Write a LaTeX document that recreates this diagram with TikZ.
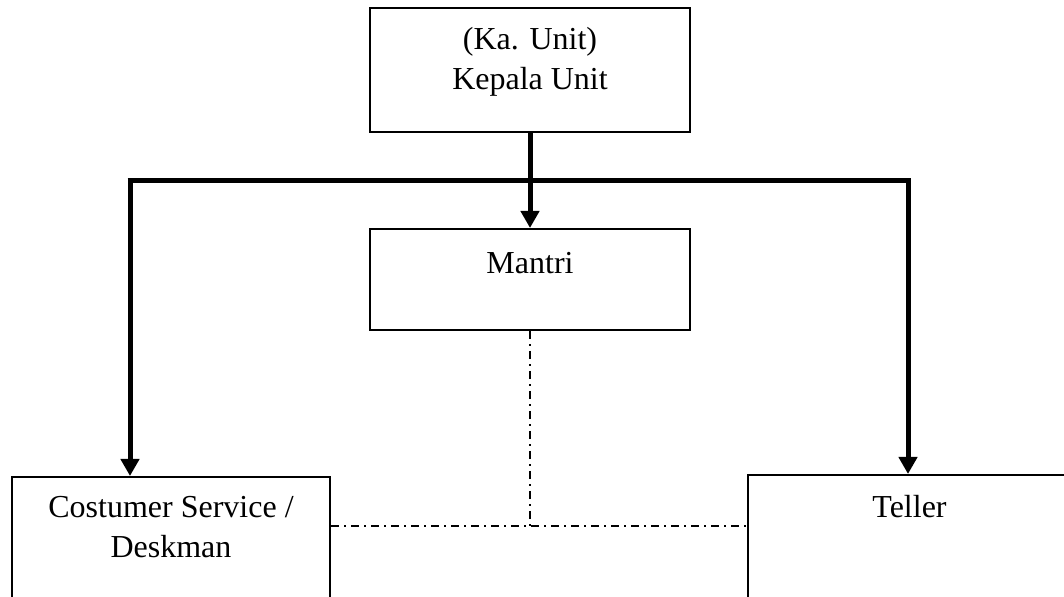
\documentclass[tikz,border=0pt]{standalone}
\usepackage{fontspec}
\setmainfont{Liberation Serif}
\usetikzlibrary{arrows.meta}
\tikzset{
  unitbox/.style={draw, line width=1pt, rectangle, inner sep=0pt},
  unittext/.style={align=center, inner sep=0pt, font=\fontsize{16}{20}\selectfont},
  trunk/.style={line width=2.5pt},
  trunkarrow/.style={trunk, -{Triangle[width=9pt,length=8.5pt]}},
  dashdot/.style={line width=0.7pt, dash pattern=on 4pt off 2.6pt on 0.8pt off 2.6pt}
}
\begin{document}
\begin{tikzpicture}[x=0.5pt,y=-0.5pt]
                \path[use as bounding box, clip] (0,0) rectangle (1064,597);

                \node[unitbox, minimum width=160pt, minimum height=62pt] (kepala) at (530,70) {};
                \node[unitbox, minimum width=160pt, minimum height=50.5pt] (mantri) at (530,279.5) {};
                \node[unitbox, minimum width=159pt, minimum height=81.5pt] (cs) at (171,558.5) {};
                \node[unitbox, minimum width=181pt, minimum height=82.5pt] (teller) at (929,557.5) {};

                \node[unittext] (kepalatext) at (530,62) {(Ka. Unit)\\Kepala Unit};
                \node[unittext] (mantritext) at (530,263) {Mantri};
                \node[unittext] (cstext) at (171,527.5) {Costumer Service /\\Deskman};
                \node[unittext] (tellertext) at (909.5,507) {Teller};

                \coordinate (busL) at (130,181);
                \coordinate (busR) at (908,181);
                \coordinate (hub) at (530,526);

                \draw[trunk] ([xshift=-1.25pt]busL) -- ([xshift=1.25pt]busR);
                \draw[trunkarrow] (kepala.south) -- (mantri.north);
                \draw[trunkarrow] (busL) -- (busL |- cs.north);
                \draw[trunkarrow] (busR) -- (busR |- teller.north);

                \draw[dashdot] (mantri.south) -- (hub);
                \draw[dashdot] (cs.east |- hub) -- (teller.west |- hub);
            \end{tikzpicture}
\end{document}
